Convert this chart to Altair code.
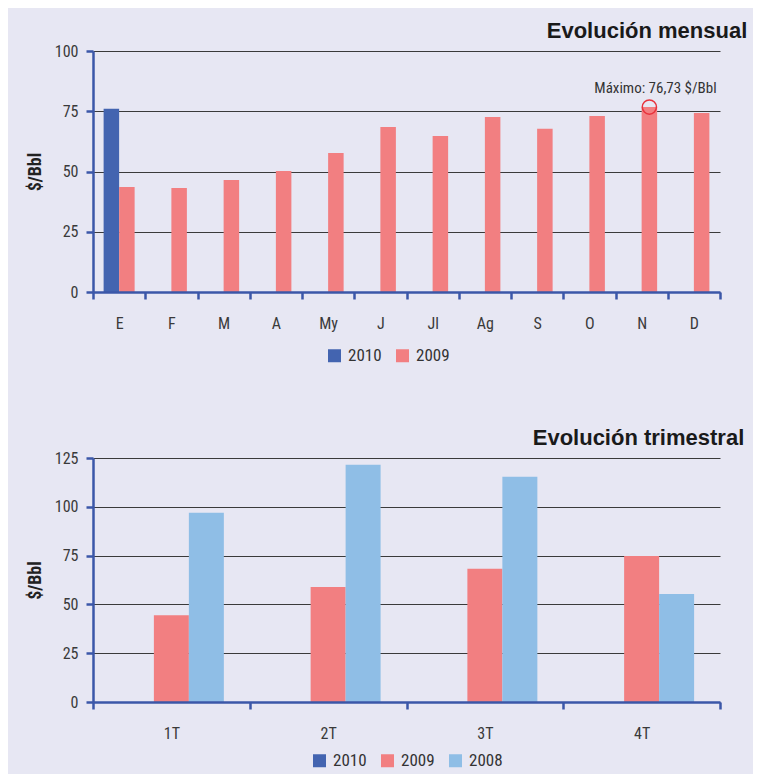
import altair as alt
import pandas as pd

# ---------------- data ----------------
months = ["E", "F", "M", "A", "My", "J", "Jl", "Ag", "S", "O", "N", "D"]
jan_2010 = 76.0
monthly_2009 = [43.6, 43.2, 46.5, 50.2, 57.7, 68.5, 64.7, 72.6, 67.7, 73.0, 76.73, 74.3]
quarters = ["1T", "2T", "3T", "4T"]
quarterly_2009 = [44.5, 58.9, 68.2, 74.8]
quarterly_2008 = [96.9, 121.6, 115.4, 55.3]
years_month = ["2010", "2009"]
years_quarter = ["2010", "2009", "2008"]
max_label = "Máximo: 76,73 $/Bbl"
max_month = "N"
max_value = 76.73

BG = "#E7E7F3"
C2010 = "#4364B0"
C2009 = "#F27F81"
C2008 = "#8FBEE6"
AXIS_BLUE = "#3B57A8"
FONT = "'Roboto Condensed', 'DejaVu Sans Condensed', 'Liberation Sans Narrow', Roboto, sans-serif"
TFONT = "'Liberation Sans', Arial, sans-serif"

df_m = pd.DataFrame({
    "mes": ["E"] + months,
    "año": ["2010"] + ["2009"] * len(months),
    "valor": [jan_2010] + monthly_2009,
})
df_q = pd.DataFrame({
    "trimestre": quarters * 2,
    "año": ["2009"] * 4 + ["2008"] * 4,
    "valor": quarterly_2009 + quarterly_2008,
})
df_max = pd.DataFrame({"mes": [max_month], "año": ["2009"], "valor": [max_value]})
df_lbl = pd.DataFrame({"mes": [months[-1]], "año": ["2009"], "valor": [max_value], "txt": [max_label]})


def legend(x, y):
    return alt.Legend(title=None, orient="none", legendX=x, legendY=y, direction="horizontal",
                      symbolType="square", symbolSize=169, symbolStrokeWidth=0,
                      labelFont=FONT, labelFontSize=17, labelColor="#333333",
                      labelOffset=5, columnPadding=12, padding=0)


# ---------------- monthly chart ----------------
x_m = alt.X("mes:N", scale=alt.Scale(domain=months, paddingInner=0, paddingOuter=0),
            axis=alt.Axis(title=None, labelAngle=0, tickBand="extent", zindex=1))
xo_m = alt.XOffset("año:N", scale=alt.Scale(domain=years_month, paddingInner=0, paddingOuter=0.685))
y_m = alt.Y("valor:Q", scale=alt.Scale(domain=[0, 100], nice=False),
            axis=alt.Axis(values=[0, 25, 50, 75, 100], title="$/Bbl"))

bars_m = alt.Chart(df_m).mark_bar().encode(
    x=x_m, xOffset=xo_m, y=y_m,
    color=alt.Color("año:N", scale=alt.Scale(domain=years_month, range=[C2010, C2009]),
                    legend=legend(233, 296)),
)
circle = alt.Chart(df_max).mark_point(shape="circle", size=200, filled=False, stroke="#E8323C",
                                      strokeWidth=1.5, opacity=1).encode(
    x=alt.X("mes:N"), xOffset=alt.XOffset("año:N"), y=alt.Y("valor:Q"))
label = alt.Chart(df_lbl).mark_text(align="right", baseline="alphabetic", dx=15, dy=-14,
                                    font=FONT, fontSize=15, color="#333333").encode(
    x=alt.X("mes:N"), xOffset=alt.XOffset("año:N"), y=alt.Y("valor:Q"), text="txt:N")

top = alt.layer(bars_m, circle, label).properties(
    width=627, height=241,
    title=alt.TitleParams("Evolución mensual", anchor="end", font=TFONT,
                          fontWeight="bold", fontSize=22, color="#1a1a1a", dx=26, offset=0),
)

# ---------------- quarterly chart ----------------
x_q = alt.X("trimestre:N", scale=alt.Scale(domain=quarters, paddingInner=0, paddingOuter=0),
            axis=alt.Axis(title=None, labelAngle=0, tickBand="extent", zindex=1))
xo_q = alt.XOffset("año:N", scale=alt.Scale(domain=years_quarter, paddingInner=0, paddingOuter=0.74))
y_q = alt.Y("valor:Q", scale=alt.Scale(domain=[0, 125], nice=False),
            axis=alt.Axis(values=[0, 25, 50, 75, 100, 125], title="$/Bbl"))

bottom = alt.Chart(df_q).mark_bar().encode(
    x=x_q, xOffset=xo_q, y=y_q,
    color=alt.Color("año:N", scale=alt.Scale(domain=years_quarter, range=[C2010, C2009, C2008]),
                    legend=legend(218, 294)),
).properties(
    width=627, height=244,
    title=alt.TitleParams("Evolución trimestral", anchor="end", font=TFONT,
                          fontWeight="bold", fontSize=22, color="#1a1a1a", dx=23, offset=0),
)

chart = alt.vconcat(top, bottom, spacing=63).resolve_scale(
    x="independent", y="independent", color="independent", xOffset="independent"
).resolve_legend(color="independent").properties(
    background=BG, padding={"left": 18, "top": 12, "right": 5, "bottom": 5}
).configure_view(stroke=None).configure_axis(
    domainColor=AXIS_BLUE, domainWidth=2.5, tickColor=AXIS_BLUE, tickWidth=2.5, tickSize=7,
    labelFont=FONT, labelFontSize=16, labelColor="#3a3a3a",
    gridColor="#3a3a3a", gridWidth=1,
    titleFont=FONT, titleFontWeight="bold", titleFontSize=18, titleColor="#222222",
    labelPadding=8, titlePadding=10,
).configure_axisX(grid=False, labelPadding=16).configure_axisY(grid=True)

chart.save("out.html", embed_options={"renderer": "svg", "actions": False})
